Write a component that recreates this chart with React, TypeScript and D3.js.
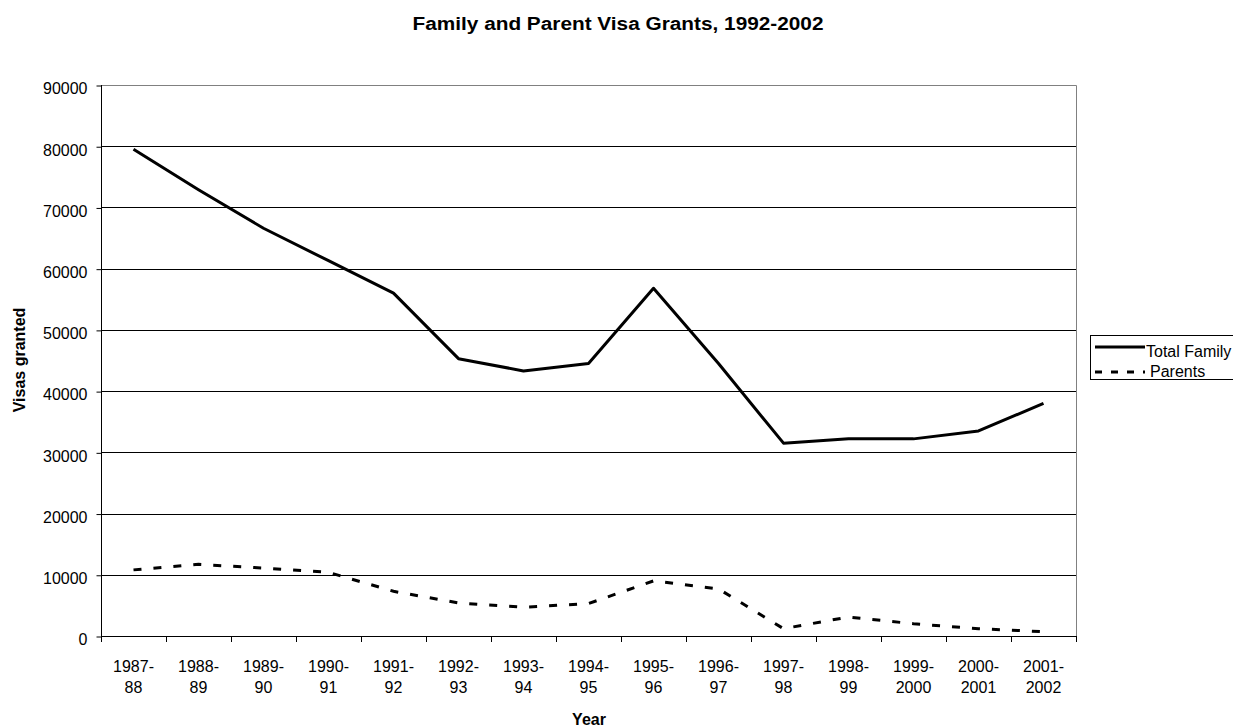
import React, { useRef, useEffect } from "react";
import * as d3 from "d3";

const categories = [
  "1987-88", "1988-89", "1989-90", "1990-91", "1991-92", "1992-93", "1993-94", "1994-95",
  "1995-96", "1996-97", "1997-98", "1998-99", "1999-2000", "2000-2001", "2001-2002",
];
const totalFamily = [79500, 72900, 66600, 61300, 56000, 45300, 43300, 44500, 56800, 44500, 31500, 32200, 32200, 33500, 38000];
const parents = [10800, 11700, 11100, 10400, 7300, 5400, 4700, 5300, 9000, 7700, 1200, 3100, 2000, 1200, 700];
const yTicks = [0, 10000, 20000, 30000, 40000, 50000, 60000, 70000, 80000, 90000];
const seriesNames = ["Total Family", "Parents"];

const W = 1233;
const H = 727;
const FONT = "'Liberation Sans', Arial, sans-serif";

const App = () => {
  const svgRef = useRef<SVGSVGElement>(null);

  useEffect(() => {
    const svg = d3.select(svgRef.current);
    svg.selectAll("*").remove();

    const left = 101, right = 1076, top = 85, bottom = 636;

    const x = d3.scaleBand<string>().domain(categories).range([left, right]).paddingInner(0).paddingOuter(0);
    const y = d3.scaleLinear().domain([0, 90000]).range([bottom, top]);
    const cx = (c: string) => (x(c) as number) + x.bandwidth() / 2;

    // title (stretched a bit, like the source)
    svg.append("text")
      .attr("x", 618).attr("y", 30)
      .attr("text-anchor", "middle")
      .attr("font-family", FONT).attr("font-size", 17.5).attr("font-weight", "bold")
      .attr("textLength", 411).attr("lengthAdjust", "spacingAndGlyphs")
      .text("Family and Parent Visa Grants, 1992-2002");

    // gridlines
    svg.append("g").selectAll("line")
      .data(yTicks.filter((d) => d > 0 && d < 90000))
      .join("line")
      .attr("x1", left).attr("x2", right)
      .attr("y1", (d) => Math.round(y(d)) + 0.5).attr("y2", (d) => Math.round(y(d)) + 0.5)
      .attr("stroke", "#000").attr("stroke-width", 1);

    // plot border (top + right)
    svg.append("path")
      .attr("d", `M${left},${top + 0.5}H${right + 0.5}V${bottom}`)
      .attr("fill", "none").attr("stroke", "#808080").attr("stroke-width", 1);

    // y axis
    const yAxis = svg.append("g")
      .attr("transform", `translate(${left + 0.5},0.5)`)
      .call(d3.axisLeft(y).tickValues(yTicks).tickSize(5).tickPadding(9).tickFormat(d3.format("d")));
    yAxis.select(".domain").remove();
    yAxis.selectAll("line").attr("stroke", "#000");
    yAxis.selectAll("text")
      .attr("font-family", FONT).attr("font-size", 16).attr("fill", "#000").attr("dy", "0.52em");
    svg.append("line")
      .attr("x1", left + 0.5).attr("x2", left + 0.5).attr("y1", top).attr("y2", bottom + 1)
      .attr("stroke", "#000");

    // x axis
    svg.append("line")
      .attr("x1", left).attr("x2", right + 1).attr("y1", bottom + 0.5).attr("y2", bottom + 0.5)
      .attr("stroke", "#000");
    const bounds = categories.map((c) => x(c) as number).concat([right]);
    svg.append("g").selectAll("line")
      .data(bounds)
      .join("line")
      .attr("x1", (d) => Math.round(d) + 0.5).attr("x2", (d) => Math.round(d) + 0.5)
      .attr("y1", bottom).attr("y2", bottom + 6)
      .attr("stroke", "#000");

    const xl = svg.append("g").selectAll("text")
      .data(categories)
      .join("text")
      .attr("text-anchor", "middle")
      .attr("font-family", FONT).attr("font-size", 16);
    xl.append("tspan")
      .attr("x", (d) => cx(d)).attr("y", 672)
      .text((d) => d.slice(0, d.indexOf("-") + 1));
    xl.append("tspan")
      .attr("x", (d) => cx(d)).attr("y", 693)
      .text((d) => d.slice(d.indexOf("-") + 1));

    // axis titles
    svg.append("text")
      .attr("x", 589).attr("y", 725)
      .attr("text-anchor", "middle")
      .attr("font-family", FONT).attr("font-size", 16).attr("font-weight", "bold")
      .text("Year");
    svg.append("text")
      .attr("transform", "translate(25,360) rotate(-90)")
      .attr("text-anchor", "middle")
      .attr("font-family", FONT).attr("font-size", 16).attr("font-weight", "bold")
      .text("Visas granted");

    // lines
    const lineGen = d3.line<number>()
      .x((_, i) => cx(categories[i]))
      .y((d) => y(d));

    svg.append("path")
      .datum(totalFamily)
      .attr("d", lineGen)
      .attr("fill", "none").attr("stroke", "#000").attr("stroke-width", 3)
      .attr("stroke-linejoin", "round");

    svg.append("path")
      .datum(parents)
      .attr("d", lineGen)
      .attr("fill", "none").attr("stroke", "#000").attr("stroke-width", 3)
      .attr("stroke-dasharray", "8,12");

    // legend
    const lg = svg.append("g");
    lg.append("rect")
      .attr("x", 1090.5).attr("y", 335.5).attr("width", 160).attr("height", 44)
      .attr("fill", "#fff").attr("stroke", "#000").attr("stroke-width", 1);
    const rows = lg.selectAll("g.row")
      .data(seriesNames)
      .join("g")
      .attr("class", "row");
    rows.append("line")
      .attr("x1", 1095).attr("x2", 1145)
      .attr("y1", (_, i) => (i === 0 ? 347 : 372)).attr("y2", (_, i) => (i === 0 ? 347 : 372))
      .attr("stroke", "#000").attr("stroke-width", 3)
      .attr("stroke-dasharray", (_, i) => (i === 1 ? "7,9" : null));
    rows.append("text")
      .attr("x", (_, i) => (i === 0 ? 1146 : 1150)).attr("y", (_, i) => (i === 0 ? 357 : 377))
      .attr("font-family", FONT).attr("font-size", 16)
      .text((d) => d);
  }, []);

  return (
    <div style={{ position: "absolute", left: 0, top: 0, width: W, height: H, background: "#fff" }}>
      <svg ref={svgRef} width={W} height={H} style={{ display: "block" }} />
    </div>
  );
};

export default App;
